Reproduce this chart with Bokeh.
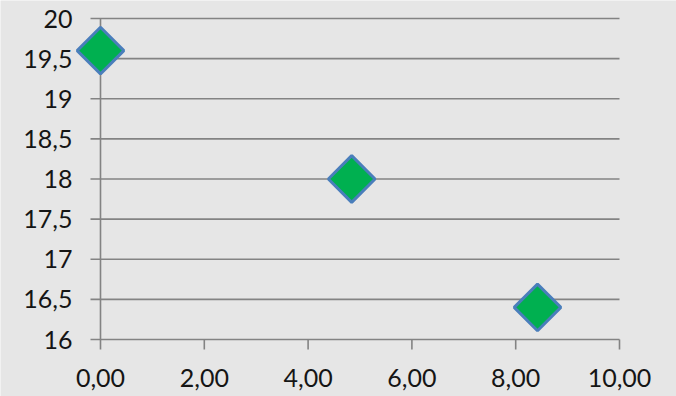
import math
from bokeh.plotting import figure
from bokeh.models import ColumnDataSource
from bokeh.embed import file_html
from bokeh.resources import INLINE

# data
x_values = [0.0, 4.84, 8.42]
y_values = [19.6, 18.0, 16.4]
x_ticks = [0, 2, 4, 6, 8, 10]
x_tick_labels = ["0,00", "2,00", "4,00", "6,00", "8,00", "10,00"]
y_ticks = [16, 16.5, 17, 17.5, 18, 18.5, 19, 19.5, 20]
y_tick_labels = ["16", "16,5", "17", "17,5", "18", "18,5", "19", "19,5", "20"]

# layout (pixels)
W, H = 676, 396
LEFT, RIGHT, TOP, BOTTOM = 100, 619, 18, 339
X0, X1, Y0, Y1 = 0.0, 10.0, 16.0, 20.0
TICK = 10

BG = "#e6e6e6"
GRID = "#838383"
FONT = "Lato"
TXT = "#151515"

pxx = (RIGHT - LEFT) / (X1 - X0)
pxy = (BOTTOM - TOP) / (Y1 - Y0)
xr = (X0 - LEFT / pxx, X1 + (W - RIGHT) / pxx)
yr = (Y0 - (H - BOTTOM) / pxy, Y1 + TOP / pxy)

p = figure(width=W, height=H, output_backend="svg", toolbar_location=None,
           x_range=xr, y_range=yr, min_border=0)
p.background_fill_color = BG
p.border_fill_color = BG
p.outline_line_color = None
p.xaxis.visible = False
p.yaxis.visible = False
p.xgrid.visible = False
p.ygrid.visible = False

tx = TICK / pxx
ty = TICK / pxy

# horizontal gridlines (extend left as y major ticks)
p.segment(x0=[X0 - tx] * len(y_ticks), y0=y_ticks, x1=[X1] * len(y_ticks), y1=y_ticks,
          line_color=GRID, line_width=1.6)
# y axis line
p.segment(x0=[X0], y0=[Y0], x1=[X0], y1=[Y1], line_color=GRID, line_width=1.6)
# x major ticks
p.segment(x0=x_ticks, y0=[Y0] * len(x_ticks), x1=x_ticks, y1=[Y0 - ty] * len(x_ticks),
          line_color=GRID, line_width=1.6)

# tick labels
p.text(x=[X0] * len(y_ticks), y=y_ticks, text=y_tick_labels,
       x_offset=-28, y_offset=0, text_align="right", text_baseline="alphabetic",
       text_font={"value": FONT}, text_font_size={"value": "25px"}, text_color=TXT)
p.text(x=x_ticks, y=[Y0] * len(x_ticks), text=x_tick_labels,
       x_offset=0, y_offset=38, text_align="center", text_baseline="alphabetic",
       text_font={"value": FONT}, text_font_size={"value": "25px"}, text_color=TXT)

src = ColumnDataSource(dict(x=x_values, y=y_values))
p.scatter("x", "y", source=src, marker="square", size=33, angle=math.pi / 4,
          fill_color="#00b050", line_color="#4a7ebb", line_width=3)

open("out.html", "w").write(file_html(p, INLINE))
